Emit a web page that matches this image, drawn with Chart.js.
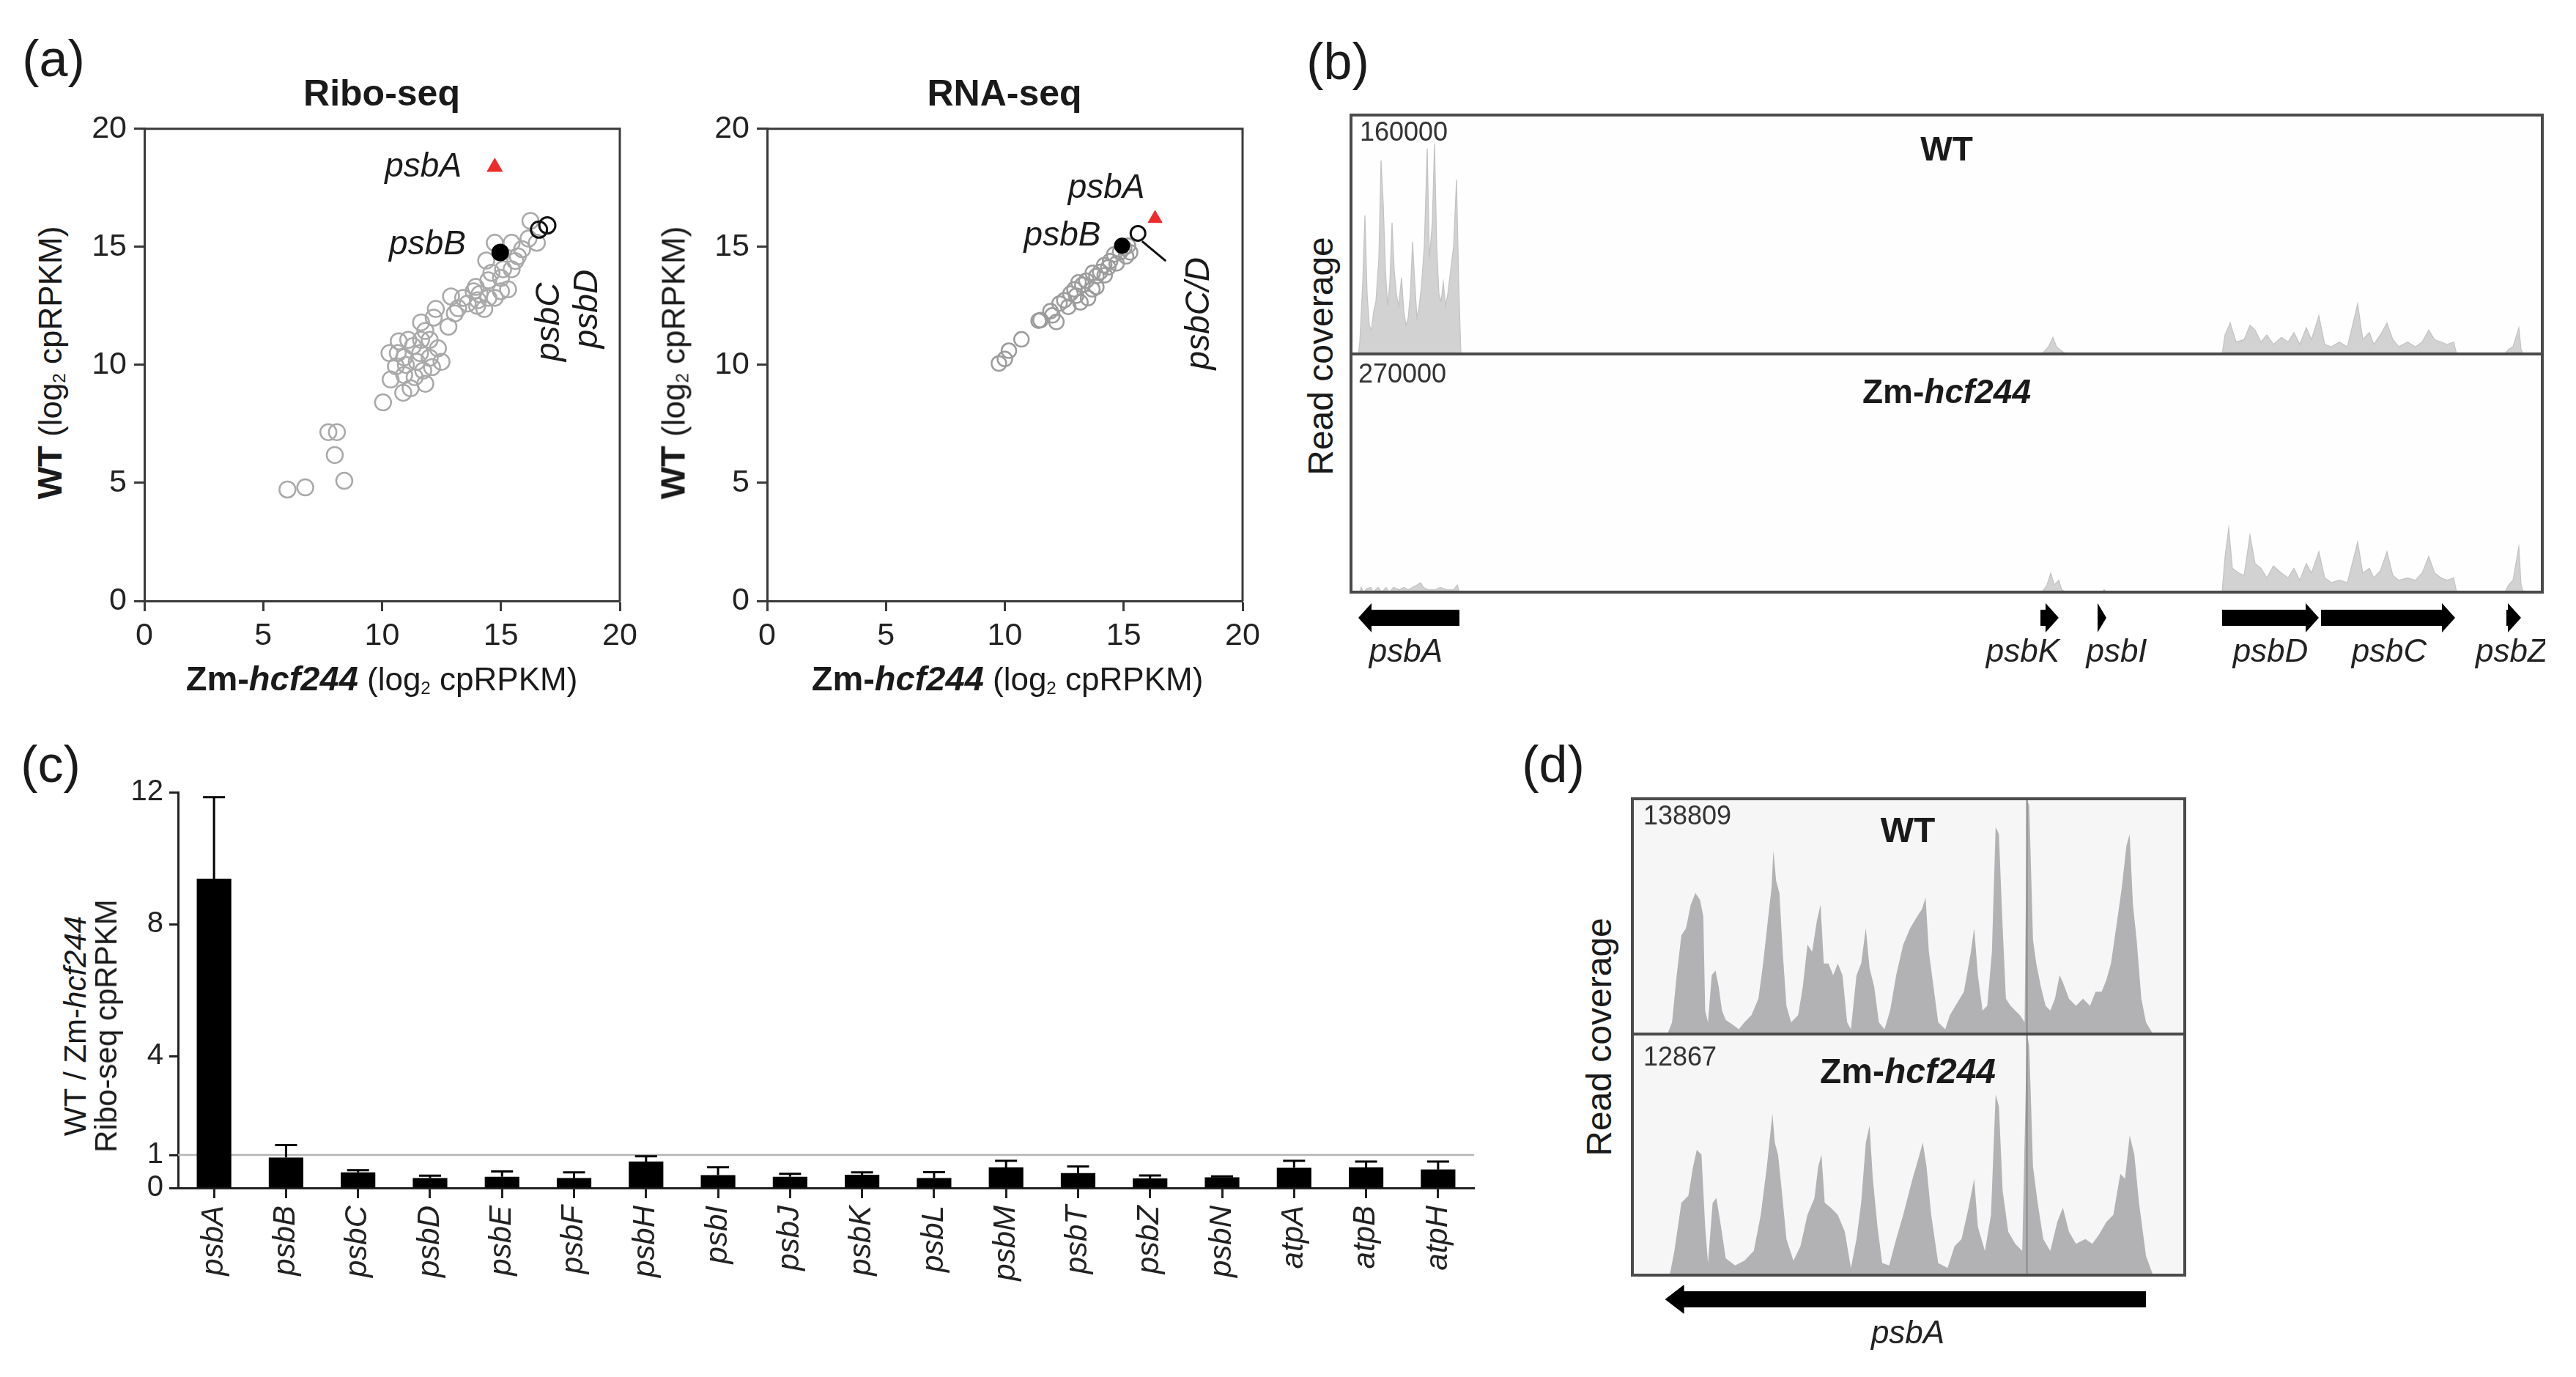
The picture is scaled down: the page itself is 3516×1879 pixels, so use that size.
<!DOCTYPE html>
<html>
<head>
<meta charset="utf-8">
<script src="https://cdn.jsdelivr.net/npm/chart.js@4.4.1/dist/chart.umd.min.js"></script>
<style>
  html, body { margin: 0; padding: 0; background: #fff; }
  body { width: 3516px; height: 1879px; position: relative; overflow: hidden;
         font-family: "Liberation Sans", Arial, sans-serif; color: #1a1a1a; }
  canvas { position: absolute; z-index: 1; }
  .t { position: absolute; z-index: 2; white-space: nowrap; line-height: 1; transform: translate(-50%, -50%); }
  .r { transform: translate(-50%, -50%) rotate(-90deg); }
  .l { transform: translate(0, -50%); }
  .pl { font-size: 70px; }
  sub { font-size: 0.55em; vertical-align: -0.2em; }
</style>
</head>
<body>

<!-- panel letters and titles -->
<div class="t pl" style="left:73px;top:80px">(a)</div>
<div class="t pl" style="left:1826px;top:84px">(b)</div>
<div class="t pl" style="left:69px;top:1043px">(c)</div>
<div class="t pl" style="left:2120px;top:1043px">(d)</div>

<div class="t" style="left:521px;top:127px;font-size:50px;font-weight:bold">Ribo-seq</div>
<div class="t" style="left:1371px;top:127px;font-size:50px;font-weight:bold">RNA-seq</div>

<div class="t r" style="left:69px;top:495px;font-size:44px"><b style="font-size:47px">WT</b> (log<sub>2</sub> cpRPKM)</div>
<div class="t r" style="left:919px;top:495px;font-size:44px"><b style="font-size:47px">WT</b> (log<sub>2</sub> cpRPKM)</div>
<div class="t" style="left:521px;top:927px;font-size:44px"><b style="font-size:47px">Zm-<i>hcf244</i></b> (log<sub>2</sub> cpRPKM)</div>
<div class="t" style="left:1375px;top:927px;font-size:44px"><b style="font-size:47px">Zm-<i>hcf244</i></b> (log<sub>2</sub> cpRPKM)</div>

<!-- panel b texts -->
<div class="t r" style="left:1803px;top:486px;font-size:48px">Read coverage</div>
<div class="t" style="left:2657px;top:203px;font-size:46px;font-weight:bold">WT</div>
<div class="t" style="left:2657px;top:534px;font-size:46px;font-weight:bold">Zm-<i>hcf244</i></div>
<div class="t l" style="left:1856px;top:180px;font-size:36px;color:#333">160000</div>
<div class="t l" style="left:1854px;top:510px;font-size:36px;color:#333">270000</div>

<!-- panel c texts -->
<div class="t r" style="left:103px;top:1400px;font-size:42px">WT / Zm-<i>hcf244</i></div>
<div class="t r" style="left:145px;top:1400px;font-size:42px">Ribo-seq cpRPKM</div>

<!-- panel d texts -->
<div class="t r" style="left:2183px;top:1415px;font-size:48px">Read coverage</div>
<div class="t l" style="left:2243px;top:1113px;font-size:36px;color:#333">138809</div>
<div class="t" style="left:2604px;top:1133px;font-size:48px;font-weight:bold">WT</div>
<div class="t l" style="left:2243px;top:1442px;font-size:36px;color:#333">12867</div>
<div class="t" style="left:2604px;top:1462px;font-size:48px;font-weight:bold">Zm-<i>hcf244</i></div>

<script>
// ---------------- data ----------------
// (a) Ribo-seq, log2 cpRPKM: x = Zm-hcf244, y = WT
const riboMut = [6.02, 6.77, 8.41, 8.01, 7.74, 8.10, 10.04, 10.36, 10.89, 10.31, 10.66, 11.10, 10.93, 11.46, 11.73,
  11.82, 12.00, 12.35, 12.50, 11.64, 12.00, 11.64, 12.17, 11.82, 11.37, 10.93, 10.58, 11.20, 12.79, 12.26, 13.06,
  13.41, 13.85, 13.94, 14.03, 14.30, 14.47, 14.74, 15.00, 14.38, 14.74, 15.00, 15.09, 15.45, 14.47, 15.45, 15.89,
  16.16, 16.24, 16.51, 15.71, 12.9, 13.6, 14.1, 13.2, 14.6, 15.3, 15.6, 14.0, 11.3, 11.0, 11.6, 12.1, 10.7];
const riboWt = [4.72, 4.81, 5.09, 6.18, 7.15, 7.15, 8.41, 9.38, 8.82, 10.50, 10.50, 11.06, 10.32, 10.13, 9.76,
  9.20, 10.30, 10.70, 10.13, 11.06, 11.06, 11.80, 12.00, 11.44, 9.48, 9.57, 9.94, 9.01, 11.62, 12.37, 12.18,
  12.84, 13.12, 13.30, 12.74, 12.37, 12.84, 12.84, 13.12, 14.42, 15.17, 13.68, 14.05, 14.05, 13.58, 15.17, 14.90,
  15.35, 16.10, 15.17, 14.60, 12.9, 12.6, 13.0, 12.4, 13.9, 13.2, 14.4, 12.5, 10.8, 10.0, 10.5, 9.9, 11.0];
// highlighted genes: psbA, psbB, psbC, psbD
const riboHiMut = [14.74, 14.97, 16.6, 16.95];
const riboHiWt = [18.38, 14.76, 15.73, 15.91];

// (a) RNA-seq
const rnaMut = [9.75, 10.17, 10.0, 10.7, 11.42, 11.92, 12.17, 12.0, 12.5, 12.76, 12.93, 13.18, 13.26, 13.43, 13.68,
  13.85, 14.01, 14.18, 14.43, 14.6, 14.85, 15.02, 15.27, 15.18, 13.0, 13.5, 13.85, 14.35, 12.67,
  13.1, 13.7, 14.2, 14.7, 15.1, 12.3, 11.5];
const rnaWt = [10.06, 10.6, 10.25, 11.08, 11.87, 12.28, 11.82, 12.1, 12.74, 13.02, 13.2, 12.65, 13.39, 13.57, 13.2,
  13.76, 13.94, 14.22, 14.4, 14.68, 14.77, 14.96, 14.77, 15.05, 12.93, 12.83, 13.3, 14.13, 12.46,
  13.5, 13.9, 13.8, 14.3, 14.6, 12.6, 11.9];
// psbA, psbB, psbC/D
const rnaHiMut = [16.32, 14.93, 15.6];
const rnaHiWt = [16.2, 15.05, 15.57];
const rnaLeaderX = [15.77, 16.77];
const rnaLeaderY = [15.24, 14.4];

// (b) read coverage over the psbA ... psbZ window (window position 0-1626), fraction of track scale
const bWtPos = [0, 10,
  12, 16, 19, 22, 25, 28, 31, 34, 38, 41, 44, 47, 50, 53, 56, 59, 62, 65, 69, 72, 75, 78, 81, 84, 87, 90, 93, 96,
  100, 104, 107, 111, 114, 117, 120, 123, 126, 129, 132, 136, 140, 144, 147, 150,
  943, 952, 958, 963, 971, 977,
  1189, 1193, 1200, 1208, 1219, 1227, 1234, 1242, 1250, 1259, 1270, 1279, 1287, 1295, 1304, 1311, 1321, 1329, 1338,
  1349, 1360, 1374, 1381, 1390, 1396, 1405, 1414, 1422, 1430, 1442, 1453, 1462, 1471, 1479, 1488, 1496, 1505, 1509,
  1575, 1580, 1586, 1594, 1597, 1600, 1626];
const bWtCov = [0, 0,
  0.05, 0.30, 0.58, 0.25, 0.12, 0.10, 0.18, 0.22, 0.40, 0.81, 0.63, 0.35, 0.20, 0.30, 0.55, 0.35, 0.25, 0.20, 0.32,
  0.18, 0.12, 0.15, 0.25, 0.47, 0.30, 0.15, 0.20, 0.28, 0.45, 0.86, 0.40, 0.55, 0.88, 0.45, 0.25, 0.22, 0.30, 0.20,
  0.25, 0.35, 0.45, 0.73, 0.30, 0,
  0, 0.03, 0.07, 0.03, 0.01, 0,
  0.0, 0.08, 0.13, 0.05, 0.06, 0.12, 0.10, 0.05, 0.08, 0.04, 0.07, 0.05, 0.09, 0.04, 0.11, 0.06, 0.16, 0.04, 0.03,
  0.05, 0.03, 0.21, 0.06, 0.09, 0.04, 0.08, 0.13, 0.06, 0.03, 0.05, 0.03, 0.05, 0.10, 0.06, 0.05, 0.04, 0.05, 0.0,
  0, 0.02, 0.03, 0.11, 0.02, 0, 0];
const bMutPos = [0,
  12, 14, 17, 22, 27, 30, 37, 42, 48, 52, 58, 66, 72, 78, 90, 95, 99, 105, 115, 122, 130, 140, 145, 148,
  943, 950, 955, 960, 966, 970, 977,
  1025, 1028, 1031,
  1189, 1193, 1198, 1203, 1212, 1219, 1227, 1234, 1242, 1250, 1259, 1270, 1279, 1287, 1295, 1304, 1311, 1321, 1329,
  1338, 1349, 1360, 1374, 1381, 1390, 1396, 1405, 1414, 1422, 1430, 1442, 1453, 1462, 1471, 1479, 1488, 1496, 1505, 1509,
  1575, 1580, 1586, 1594, 1597, 1600, 1626];
const bMutCov = [0,
  0, 0.02, 0, 0.015, 0.02, 0, 0.02, 0, 0.02, 0, 0.02, 0.01, 0.02, 0.01, 0.03, 0.04, 0.02, 0.01, 0.01, 0.02, 0.01, 0.01, 0.03, 0,
  0, 0.03, 0.08, 0.03, 0.05, 0.01, 0,
  0, 0.01, 0,
  0.0, 0.15, 0.27, 0.10, 0.08, 0.07, 0.24, 0.12, 0.10, 0.06, 0.11, 0.08, 0.06, 0.10, 0.05, 0.12, 0.08, 0.17, 0.06,
  0.04, 0.05, 0.04, 0.21, 0.08, 0.10, 0.06, 0.09, 0.17, 0.07, 0.05, 0.06, 0.05, 0.08, 0.15, 0.08, 0.06, 0.05, 0.06, 0.0,
  0, 0.03, 0.05, 0.19, 0.03, 0, 0];
// genes in the (b) window
const bGenes = ['psbA', 'psbK', 'psbI', 'psbD', 'psbC', 'psbZ'];
const bGeneStart = [10, 941, 1019, 1189, 1324, 1577];
const bGeneEnd = [148, 966, 1031, 1321, 1507, 1597];
const bGeneStrand = [-1, 1, 1, 1, 1, 1];
const bGeneLabelAt = [75, 917, 1045, 1255, 1417, 1584];

// (c) WT / Zm-hcf244 Ribo-seq cpRPKM ratio, mean and error
const cGenes = ['psbA', 'psbB', 'psbC', 'psbD', 'psbE', 'psbF', 'psbH', 'psbI', 'psbJ', 'psbK', 'psbL', 'psbM',
  'psbT', 'psbZ', 'psbN', 'atpA', 'atpB', 'atpH'];
const cRatio = [9.38, 0.92, 0.47, 0.30, 0.34, 0.30, 0.80, 0.39, 0.34, 0.40, 0.30, 0.62, 0.45, 0.29, 0.32, 0.61, 0.62, 0.56];
const cErr = [2.47, 0.38, 0.07, 0.07, 0.16, 0.17, 0.16, 0.24, 0.09, 0.07, 0.18, 0.20, 0.20, 0.09, 0.03, 0.21, 0.18, 0.24];
const cTicks = [0, 1, 4, 8, 12];

// (d) psbA coverage (window position 0-1183), fraction of track scale
const dWtPos = [75, 85, 95, 105, 115, 125, 135, 145, 152, 156, 162, 170, 178, 185, 192, 200, 215, 228, 240, 255,
  270, 280, 290, 298, 302, 308, 315, 322, 330, 340, 355, 365, 375, 385, 395, 403, 410, 420, 430, 440,
  450, 460, 468, 480, 490, 500, 508, 518, 528, 540, 552, 565, 580, 595, 610, 620, 628, 635, 645, 655,
  670, 680, 695, 710, 725, 732, 740, 750, 760, 770, 778, 785, 792, 800, 810, 820, 830, 840, 845, 850,
  858, 865, 875, 885, 895, 905, 915, 922, 935, 950, 965, 980, 992, 1005, 1015, 1025, 1038, 1048, 1058, 1065,
  1072, 1080, 1090, 1100, 1115];
const dWtCov = [0, 0.05, 0.25, 0.42, 0.45, 0.55, 0.60, 0.57, 0.50, 0.10, 0.05, 0.25, 0.27, 0.20, 0.10, 0.06, 0.04, 0.02, 0.05, 0.08,
  0.15, 0.30, 0.48, 0.62, 0.78, 0.65, 0.60, 0.35, 0.12, 0.05, 0.08, 0.20, 0.38, 0.35, 0.48, 0.55, 0.30, 0.30, 0.25, 0.30,
  0.25, 0.05, 0.02, 0.25, 0.30, 0.45, 0.28, 0.20, 0.05, 0.02, 0.10, 0.25, 0.38, 0.45, 0.50, 0.53, 0.58, 0.35, 0.20, 0.05,
  0.02, 0.08, 0.13, 0.18, 0.35, 0.45, 0.25, 0.10, 0.12, 0.35, 0.88, 0.85, 0.50, 0.15, 0.12, 0.10, 0.08, 0.05, 1.0, 0.97,
  0.40, 0.30, 0.20, 0.12, 0.10, 0.15, 0.25, 0.22, 0.15, 0.12, 0.15, 0.12, 0.18, 0.18, 0.23, 0.30, 0.48, 0.62, 0.80, 0.85,
  0.55, 0.40, 0.15, 0.05, 0];
const dMutPos = [80, 90, 105, 120, 130, 138, 148, 156, 162, 172, 180, 190, 200, 220, 240, 260, 275, 288, 300, 305,
  312, 320, 330, 345, 360, 375, 390, 398, 405, 412, 425, 440, 455, 468, 480, 490, 500, 508, 515, 525,
  535, 550, 565, 580, 600, 615, 622, 630, 640, 655, 675, 690, 705, 720, 732, 740, 755, 768, 778, 785,
  793, 805, 820, 835, 845, 850, 858, 868, 880, 895, 910, 922, 935, 950, 970, 985, 1000, 1015, 1030, 1045,
  1055, 1065, 1075, 1085, 1100, 1115];
const dMutCov = [0, 0.1, 0.3, 0.33, 0.45, 0.52, 0.50, 0.2, 0.05, 0.30, 0.32, 0.2, 0.07, 0.04, 0.06, 0.10, 0.25, 0.45, 0.67, 0.55,
  0.50, 0.35, 0.15, 0.06, 0.12, 0.25, 0.32, 0.45, 0.50, 0.30, 0.28, 0.25, 0.18, 0.03, 0.15, 0.30, 0.55, 0.62, 0.40, 0.20,
  0.05, 0.04, 0.15, 0.25, 0.40, 0.50, 0.55, 0.45, 0.25, 0.05, 0.03, 0.12, 0.15, 0.28, 0.40, 0.20, 0.10, 0.25, 0.75, 0.70,
  0.35, 0.18, 0.13, 0.10, 1.0, 0.95, 0.45, 0.30, 0.15, 0.10, 0.22, 0.28, 0.18, 0.13, 0.15, 0.13, 0.17, 0.22, 0.25, 0.42,
  0.40, 0.58, 0.50, 0.30, 0.08, 0];
const dMarkerPos = [845];
const dGenes = ['psbA'];
const dGeneStart = [70];
const dGeneEnd = [1100];
const dGeneStrand = [-1];
const dGeneLabelAt = [590];

// ---------------- helpers ----------------
Chart.defaults.font.family = '"Liberation Sans", Arial, sans-serif';
Chart.defaults.color = '#222';
const AXIS = '#3a3a3a';

function mk(left, top, w, h) {
  const c = document.createElement('canvas');
  c.width = w; c.height = h;
  c.style.left = left + 'px'; c.style.top = top + 'px';
  document.body.appendChild(c);
  return c;
}
const pts = (xs, ys) => xs.map((x, i) => ({ x: x, y: ys[i] }));

// top/right edge of the scatter boxes
const framePlugin = {
  id: 'frame',
  afterDraw(chart) {
    const a = chart.chartArea, ctx = chart.ctx;
    ctx.save();
    ctx.strokeStyle = AXIS; ctx.lineWidth = 3;
    ctx.beginPath();
    ctx.moveTo(a.left, a.top); ctx.lineTo(a.right, a.top); ctx.lineTo(a.right, a.bottom);
    ctx.stroke();
    ctx.restore();
  }
};

// gene name labels placed in data space
function notesPlugin(items) {
  return {
    id: 'notes',
    afterDraw(chart) {
      const ctx = chart.ctx, sx = chart.scales.x, sy = chart.scales.y;
      ctx.save();
      ctx.fillStyle = '#1a1a1a';
      ctx.font = 'italic 46px "Liberation Sans", Arial, sans-serif';
      ctx.textAlign = 'center'; ctx.textBaseline = 'middle';
      items.forEach(n => {
        ctx.save();
        ctx.translate(sx.getPixelForValue(n.x), sy.getPixelForValue(n.y));
        if (n.rot) ctx.rotate(-Math.PI / 2);
        ctx.fillText(n.text, 0, 0);
        ctx.restore();
      });
      ctx.restore();
    }
  };
}

function scatterChart(cv, datasets, notes) {
  const tickFont = { size: 43 };
  return new Chart(cv, {
    type: 'scatter',
    data: { datasets: datasets },
    options: {
      responsive: false, animation: false,
      layout: { padding: { top: 30, right: 54, left: 0, bottom: 0 } },
      plugins: { legend: { display: false }, tooltip: { enabled: false } },
      scales: {
        x: {
          type: 'linear', min: 0, max: 20,
          ticks: { stepSize: 5, font: tickFont, color: '#222', padding: 8, maxRotation: 0 },
          grid: { drawOnChartArea: false, tickLength: 14, tickWidth: 3, tickColor: AXIS },
          border: { width: 3, color: AXIS },
          afterFit: s => { s.height = 80; }
        },
        y: {
          type: 'linear', min: 0, max: 20,
          ticks: { stepSize: 5, font: tickFont, color: '#222', padding: 10 },
          grid: { drawOnChartArea: false, tickLength: 14, tickWidth: 3, tickColor: AXIS },
          border: { width: 3, color: AXIS },
          afterFit: s => { s.width = 97; }
        }
      }
    },
    plugins: [framePlugin, notesPlugin(notes)]
  });
}

// background + frame of the coverage tracks
function trackPlugin(bg) {
  return {
    id: 'track',
    beforeDraw(chart) {
      const a = chart.chartArea, ctx = chart.ctx;
      ctx.save(); ctx.fillStyle = bg;
      ctx.fillRect(a.left, a.top, a.right - a.left, a.bottom - a.top);
      ctx.restore();
    },
    afterDraw(chart) {
      const a = chart.chartArea, ctx = chart.ctx;
      ctx.save(); ctx.strokeStyle = '#4a4a4a'; ctx.lineWidth = 4;
      ctx.strokeRect(a.left, a.top, a.right - a.left, a.bottom - a.top);
      ctx.restore();
    }
  };
}

// gene arrows under a track
function genePlugin(g) {
  return {
    id: 'genes',
    afterDraw(chart) {
      if (!g) return;
      const ctx = chart.ctx, sx = chart.scales.x, y = chart.chartArea.bottom + g.gap;
      ctx.save();
      ctx.fillStyle = '#000';
      g.names.forEach((name, i) => {
        const x0 = sx.getPixelForValue(g.start[i]), x1 = sx.getPixelForValue(g.end[i]);
        const h = Math.min(g.head, x1 - x0), b = g.body / 2, hh = g.headH / 2;
        ctx.beginPath();
        if (g.strand[i] > 0) {
          const xb = x1 - h;
          ctx.moveTo(x0, y - b); ctx.lineTo(xb, y - b); ctx.lineTo(xb, y - hh); ctx.lineTo(x1, y);
          ctx.lineTo(xb, y + hh); ctx.lineTo(xb, y + b); ctx.lineTo(x0, y + b);
        } else {
          const xb = x0 + h;
          ctx.moveTo(x1, y - b); ctx.lineTo(xb, y - b); ctx.lineTo(xb, y - hh); ctx.lineTo(x0, y);
          ctx.lineTo(xb, y + hh); ctx.lineTo(xb, y + b); ctx.lineTo(x1, y + b);
        }
        ctx.closePath(); ctx.fill();
      });
      ctx.fillStyle = '#222';
      ctx.font = 'italic 44px "Liberation Sans", Arial, sans-serif';
      ctx.textAlign = 'center'; ctx.textBaseline = 'middle';
      g.names.forEach((name, i) => ctx.fillText(name, sx.getPixelForValue(g.labelAt[i]), y + g.labelGap));
      ctx.restore();
    }
  };
}

function trackChart(cv, pos, cov, o) {
  const sets = [{
    data: pts(pos, cov), borderColor: o.line, borderWidth: o.lw, backgroundColor: o.fill,
    fill: 'origin', pointRadius: 0, tension: 0
  }];
  if (o.marker) {
    sets.unshift({
      data: [{ x: o.marker[0], y: 0 }, { x: o.marker[0], y: 1 }],
      borderColor: '#8a8a8a', borderWidth: 2, pointRadius: 0, fill: false
    });
  }
  return new Chart(cv, {
    type: 'line',
    data: { datasets: sets },
    options: {
      responsive: false, animation: false,
      layout: { padding: { top: 4, left: 4, right: 4, bottom: o.bottom } },
      plugins: { legend: { display: false }, tooltip: { enabled: false } },
      scales: {
        x: { type: 'linear', display: false, min: o.min, max: o.max },
        y: { display: false, min: 0, max: 1 }
      }
    },
    plugins: [trackPlugin(o.bg), genePlugin(o.genes)]
  });
}

// ---------------- (a) scatter plots ----------------
scatterChart(mk(100, 140, 800, 760), [
  { data: pts(riboHiMut.slice(0, 1), riboHiWt.slice(0, 1)), pointStyle: 'triangle', pointRadius: 12,
    backgroundColor: '#ee2a2a', borderColor: '#ee2a2a', borderWidth: 1 },
  { data: pts(riboHiMut.slice(1, 2), riboHiWt.slice(1, 2)), pointRadius: 11,
    backgroundColor: '#000', borderColor: '#000', borderWidth: 2 },
  { data: pts(riboHiMut.slice(2), riboHiWt.slice(2)), pointRadius: 11,
    backgroundColor: 'rgba(255,255,255,0)', borderColor: '#111', borderWidth: 3 },
  { data: pts(riboMut, riboWt), pointRadius: 11,
    backgroundColor: 'rgba(255,255,255,0)', borderColor: '#a9a9a9', borderWidth: 2.5 }
], [
  { text: 'psbA', x: 11.73, y: 18.37 },
  { text: 'psbB', x: 11.91, y: 15.08 },
  { text: 'psbC', x: 17.04, y: 11.82, rot: true },
  { text: 'psbD', x: 18.64, y: 12.37, rot: true }
]);

scatterChart(mk(950, 140, 800, 760), [
  { data: pts(rnaHiMut.slice(0, 1), rnaHiWt.slice(0, 1)), pointStyle: 'triangle', pointRadius: 11,
    backgroundColor: '#ee2a2a', borderColor: '#ee2a2a', borderWidth: 1 },
  { data: pts(rnaLeaderX, rnaLeaderY), showLine: true, pointRadius: 0, borderColor: '#111', borderWidth: 3 },
  { data: pts(rnaHiMut.slice(1, 2), rnaHiWt.slice(1, 2)), pointRadius: 10,
    backgroundColor: '#000', borderColor: '#000', borderWidth: 2 },
  { data: pts(rnaHiMut.slice(2), rnaHiWt.slice(2)), pointRadius: 10,
    backgroundColor: 'rgba(255,255,255,0)', borderColor: '#111', borderWidth: 3 },
  { data: pts(rnaMut, rnaWt), pointRadius: 10,
    backgroundColor: 'rgba(255,255,255,0)', borderColor: '#9c9c9c', borderWidth: 2.5 }
], [
  { text: 'psbA', x: 14.27, y: 17.48 },
  { text: 'psbB', x: 12.42, y: 15.45 },
  { text: 'psbC/D', x: 18.18, y: 12.18, rot: true }
]);

// ---------------- (b) coverage window ----------------
trackChart(mk(1840, 153, 1634, 334), bWtPos, bWtCov, {
  min: 0, max: 1626, line: '#c2c2c2', lw: 1.2, fill: '#d2d2d2', bg: '#fefefe', bottom: 4, genes: null
});
trackChart(mk(1840, 479, 1634, 459), bMutPos, bMutCov, {
  min: 0, max: 1626, line: '#c2c2c2', lw: 1.2, fill: '#d2d2d2', bg: '#fefefe', bottom: 130,
  genes: { names: bGenes, start: bGeneStart, end: bGeneEnd, strand: bGeneStrand, labelAt: bGeneLabelAt,
           gap: 35, labelGap: 48, body: 22, head: 18, headH: 40 }
});

// ---------------- (c) ratio bar chart ----------------
const errPlugin = {
  id: 'errbars',
  beforeDatasetsDraw(chart) {
    const a = chart.chartArea, ctx = chart.ctx, y = chart.scales.y.getPixelForValue(1);
    ctx.save(); ctx.strokeStyle = '#b4b4b4'; ctx.lineWidth = 2.5;
    ctx.beginPath(); ctx.moveTo(a.left, y); ctx.lineTo(a.right, y); ctx.stroke();
    ctx.restore();
  },
  afterDatasetsDraw(chart) {
    const ctx = chart.ctx, sy = chart.scales.y, meta = chart.getDatasetMeta(0);
    ctx.save(); ctx.strokeStyle = '#000'; ctx.lineWidth = 3;
    meta.data.forEach((bar, i) => {
      const y0 = sy.getPixelForValue(cRatio[i]), y1 = sy.getPixelForValue(cRatio[i] + cErr[i]);
      ctx.beginPath();
      ctx.moveTo(bar.x, y0); ctx.lineTo(bar.x, y1);
      ctx.moveTo(bar.x - 15, y1); ctx.lineTo(bar.x + 15, y1);
      ctx.stroke();
    });
    ctx.restore();
  }
};

new Chart(mk(140, 1049, 1910, 830), {
  type: 'bar',
  data: { labels: cGenes, datasets: [{ data: cRatio, backgroundColor: '#000', borderWidth: 0,
    barPercentage: 0.48, categoryPercentage: 1 }] },
  options: {
    responsive: false, animation: false,
    layout: { padding: { top: 30, right: 38, left: 0, bottom: 0 } },
    plugins: { legend: { display: false }, tooltip: { enabled: false } },
    scales: {
      x: {
        grid: { offset: false, drawOnChartArea: false, tickLength: 14, tickWidth: 3, tickColor: '#222' },
        border: { width: 3, color: '#222' },
        ticks: { font: { size: 42, style: 'italic' }, color: '#222', minRotation: 90, maxRotation: 90,
                 padding: 10, autoSkip: false },
        afterFit: s => { s.height = 258; }
      },
      y: {
        min: 0, max: 12,
        afterBuildTicks: ax => { ax.ticks = cTicks.map(v => ({ value: v })); },
        grid: { drawOnChartArea: false, tickLength: 12, tickWidth: 3, tickColor: '#222' },
        border: { width: 3, color: '#222' },
        ticks: { font: { size: 40 }, color: '#222', padding: 8 },
        afterFit: s => { s.width = 103; }
      }
    }
  },
  plugins: [errPlugin]
});

// ---------------- (d) psbA close-up ----------------
trackChart(mk(2224, 1086, 762, 329), dWtPos, dWtCov, {
  min: 0, max: 1183, line: '#b2b2b5', lw: 0, fill: '#b2b2b5', bg: '#f6f6f6', bottom: 4,
  marker: dMarkerPos, genes: null
});
trackChart(mk(2224, 1407, 762, 463), dMutPos, dMutCov, {
  min: 0, max: 1183, line: '#b2b2b5', lw: 0, fill: '#b2b2b5', bg: '#f6f6f6', bottom: 130,
  marker: dMarkerPos,
  genes: { names: dGenes, start: dGeneStart, end: dGeneEnd, strand: dGeneStrand, labelAt: dGeneLabelAt,
           gap: 33, labelGap: 48, body: 22, head: 26, headH: 40 }
});
</script>
</body>
</html>
